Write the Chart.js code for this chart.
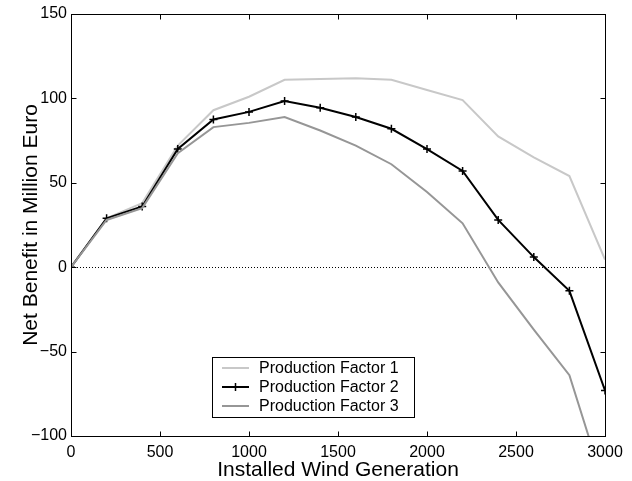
<!DOCTYPE html>
<html>
<head>
<meta charset="utf-8">
<script src="https://cdn.jsdelivr.net/npm/chart.js@4/dist/chart.umd.min.js"></script>
<style>
  html, body { margin: 0; padding: 0; background: #fff; }
  #wrap { width: 632px; height: 481px; }
</style>
</head>
<body>
<div id="wrap"><canvas id="myChart"></canvas></div>
<script>
const windGen = [0, 200, 400, 600, 800, 1000, 1200, 1400, 1600, 1800, 2000, 2200, 2400, 2600, 2800, 3000];

const factor1 = [0, 29, 38, 72, 93, 101, 111, 111.5, 112, 111, 105, 99, 77.5, 65, 54, 4.5];
const factor2 = [0, 29, 36, 70, 87.5, 92, 98.5, 94.5, 89, 82, 70, 57, 28, 6, -14, -73];
const factor3 = [0, 28, 35, 67.5, 83, 85.5, 89, 81, 72, 61, 44.5, 26, -9, -37, -64, -131];

const seriesNames = ["Production Factor 1", "Production Factor 2", "Production Factor 3"];
const xTicks = [0, 500, 1000, 1500, 2000, 2500, 3000];
const yTicks = [-100, -50, 0, 50, 100, 150];

const toPoints = (ys) => windGen.map((x, i) => ({ x: x, y: ys[i] }));

const fontFamily = "'Liberation Sans', Arial, Helvetica, sans-serif";

// zero line, axes box with inward ticks, legend inside the plot
const matlabLook = {
  id: "matlabLook",
  beforeDatasetsDraw(chart) {
    const { ctx, chartArea } = chart;
    const y0 = chart.scales.y.getPixelForValue(0);
    ctx.save();
    ctx.strokeStyle = "#000";
    ctx.lineWidth = 1;
    ctx.setLineDash([1, 2]);
    ctx.beginPath();
    ctx.moveTo(chartArea.left, Math.round(y0) + 0.5);
    ctx.lineTo(chartArea.right, Math.round(y0) + 0.5);
    ctx.stroke();
    ctx.restore();
  },
  afterDraw(chart) {
    const { ctx, chartArea } = chart;
    const xs = chart.scales.x;
    const ys = chart.scales.y;
    const l = Math.round(chartArea.left) + 0.5;
    const r = Math.round(chartArea.right) + 0.5;
    const t = Math.round(chartArea.top) + 0.5;
    const b = Math.round(chartArea.bottom) + 0.5;
    const tick = 5;

    ctx.save();
    ctx.strokeStyle = "#000";
    ctx.lineWidth = 1;
    ctx.strokeRect(l, t, r - l, b - t);
    ctx.beginPath();
    xTicks.forEach((v) => {
      const px = Math.round(xs.getPixelForValue(v)) + 0.5;
      ctx.moveTo(px, b);
      ctx.lineTo(px, b - tick);
      ctx.moveTo(px, t);
      ctx.lineTo(px, t + tick);
    });
    yTicks.forEach((v) => {
      const py = Math.round(ys.getPixelForValue(v)) + 0.5;
      ctx.moveTo(l, py);
      ctx.lineTo(l + tick, py);
      ctx.moveTo(r, py);
      ctx.lineTo(r - tick, py);
    });
    ctx.stroke();

    // legend
    const box = { x: 212.5, y: 357.5, w: 202, h: 60 };
    ctx.fillStyle = "#fff";
    ctx.fillRect(box.x, box.y, box.w, box.h);
    ctx.strokeRect(box.x, box.y, box.w, box.h);
    ctx.font = "16px " + fontFamily;
    ctx.textBaseline = "middle";
    ctx.textAlign = "left";
    chart.data.datasets.forEach((ds, i) => {
      const cy = 368 + i * 19;
      ctx.strokeStyle = ds.borderColor;
      ctx.lineWidth = ds.borderWidth;
      ctx.beginPath();
      ctx.moveTo(222, cy);
      ctx.lineTo(249, cy);
      ctx.stroke();
      if (ds.pointStyle === "cross") {
        ctx.lineWidth = 1.5;
        ctx.beginPath();
        ctx.moveTo(235.5, cy - 4);
        ctx.lineTo(235.5, cy + 4);
        ctx.moveTo(231.5, cy);
        ctx.lineTo(239.5, cy);
        ctx.stroke();
      }
      ctx.fillStyle = "#000";
      ctx.fillText(ds.label, 259, cy + 1);
    });
    ctx.restore();
  },
};

const ctx = document.getElementById("myChart");

const chart = new Chart(ctx, {
  type: "line",
  data: {
    datasets: [
      {
        label: seriesNames[0],
        data: toPoints(factor1),
        borderColor: "#c8c8c8",
        borderWidth: 2,
        pointRadius: 0,
        order: 3,
      },
      {
        label: seriesNames[1],
        data: toPoints(factor2),
        borderColor: "#000",
        borderWidth: 2,
        pointStyle: "cross",
        pointRadius: 4,
        pointBorderWidth: 1.5,
        pointBorderColor: "#000",
        order: 2,
      },
      {
        label: seriesNames[2],
        data: toPoints(factor3),
        borderColor: "#969696",
        borderWidth: 2,
        pointRadius: 0,
        order: 1,
      },
    ],
  },
  options: {
    responsive: true,
    maintainAspectRatio: false,
    animation: false,
    events: [],
    layout: { padding: { top: 14, right: 27, bottom: 0, left: 0 } },
    plugins: {
      legend: { display: false },
      tooltip: { enabled: false },
    },
    scales: {
      x: {
        type: "linear",
        min: 0,
        max: 3000,
        afterBuildTicks: (scale) => {
          scale.ticks = xTicks.map((v) => ({ value: v }));
        },
        afterFit: (scale) => {
          scale.height = 45;
        },
        grid: { display: false, drawTicks: false },
        border: { display: false },
        ticks: {
          color: "#000",
          font: { family: fontFamily, size: 16 },
          padding: 7,
          maxRotation: 0,
          autoSkip: false,
          callback: (v) => String(v),
        },
        title: {
          display: true,
          text: "Installed Wind Generation",
          color: "#000",
          font: { family: fontFamily, size: 21 },
          padding: { top: 0, bottom: -2 },
        },
      },
      y: {
        min: -100,
        max: 150,
        afterBuildTicks: (scale) => {
          scale.ticks = yTicks.map((v) => ({ value: v }));
        },
        afterFit: (scale) => {
          scale.width = 71;
        },
        grid: { display: false, drawTicks: false },
        border: { display: false },
        ticks: {
          color: "#000",
          font: { family: fontFamily, size: 16 },
          padding: 4,
          autoSkip: false,
          callback: (v) => String(v).replace("-", "\u2212"),
        },
        title: {
          display: true,
          text: "Net Benefit in Million Euro",
          color: "#000",
          font: { family: fontFamily, size: 21 },
          padding: { top: 19, bottom: 0 },
        },
      },
    },
  },
  plugins: [matlabLook],
});
</script>
</body>
</html>
